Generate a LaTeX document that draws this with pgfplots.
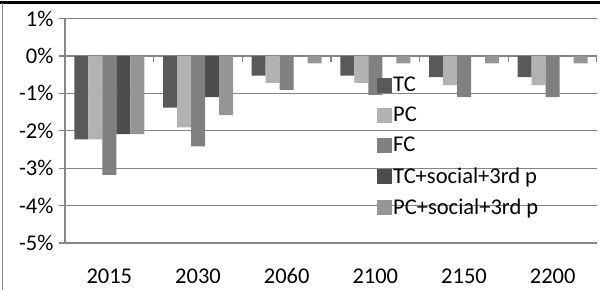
\documentclass[border=0pt]{standalone}
\usepackage{fontspec}
\setmainfont{Carlito}
\usepackage{pgfplots}
\pgfplotsset{compat=1.18}
\definecolor{cTC}{RGB}{89,89,89}
\definecolor{cPC}{RGB}{178,178,178}
\definecolor{cFC}{RGB}{128,128,128}
\definecolor{cTCs}{RGB}{77,77,77}
\definecolor{cPCs}{RGB}{150,150,150}
\definecolor{gridc}{RGB}{134,134,134}
\begin{document}
\begin{tikzpicture}
\useasboundingbox (-65bp,-47bp) rectangle (535bp,243bp);
\begin{axis}[
  scale only axis, width=532bp, height=224.5bp,
  xmin=-0.5, xmax=5.5, ymin=-5, ymax=1,
  axis x line*=middle, axis y line*=left,
  axis line style={gridc, line width=1.2bp},
  ybar=0pt, bar width=14bp,
  ymajorgrids, grid style={gridc, line width=1.2bp},
  ytick={-5,-4,-3,-2,-1,0,1},
  yticklabels={-5\%,-4\%,-3\%,-2\%,-1\%,0\%,1\%},
  xtick={0,1,2,3,4,5},
  xticklabels={2015,2030,2060,2100,2150,2200},
  x tick style={draw=none},
  tick align=outside, major tick length=6bp,
  tick style={gridc, line width=1.2bp},
  font=\fontsize{22.5bp}{27bp}\selectfont,
  ticklabel style={font=\fontsize{22.5bp}{27bp}\selectfont},
  xticklabel style={yshift=-203bp},
  yticklabel style={xshift=-2bp},
  legend image code/.code={\path[#1] (0bp,-7.5bp) rectangle (15bp,7.5bp);},
  legend cell align=left,
  legend style={at={(0.58,0.755)}, anchor=north west, draw=none, fill=none,
    row sep=11bp, nodes={inner sep=1.5bp},
    font=\fontsize{22.5bp}{27bp}\selectfont},
]
\addplot[fill=cTC, draw=none] coordinates {(0,-2.23) (1,-1.38) (2,-0.53) (3,-0.53) (4,-0.57) (5,-0.57)};
\addplot[fill=cPC, draw=none] coordinates {(0,-2.23) (1,-1.91) (2,-0.72) (3,-0.72) (4,-0.78) (5,-0.78)};
\addplot[fill=cFC, draw=none] coordinates {(0,-3.18) (1,-2.42) (2,-0.91) (3,-1.04) (4,-1.10) (5,-1.10)};
\addplot[fill=cTCs, draw=none] coordinates {(0,-2.09) (1,-1.10) (2,0) (3,0) (4,0) (5,0)};
\addplot[fill=cPCs, draw=none] coordinates {(0,-2.09) (1,-1.58) (2,-0.2) (3,-0.2) (4,-0.2) (5,-0.2)};
\legend{TC,PC,FC,TC+social+3rd p,PC+social+3rd p}
\pgfplotsinvokeforeach{0.5,1.5,2.5,3.5,4.5,5.5}{
  \draw[gridc, line width=1.2bp] (axis cs:#1,0) -- ([yshift=-6bp]axis cs:#1,0);
}
\end{axis}
\draw[black, line width=3bp] (-65bp,240bp) -- (535bp,240bp);
\draw[gridc, line width=1bp] (-62.3bp,-47bp) -- (-62.3bp,240bp);
\end{tikzpicture}
\end{document}
